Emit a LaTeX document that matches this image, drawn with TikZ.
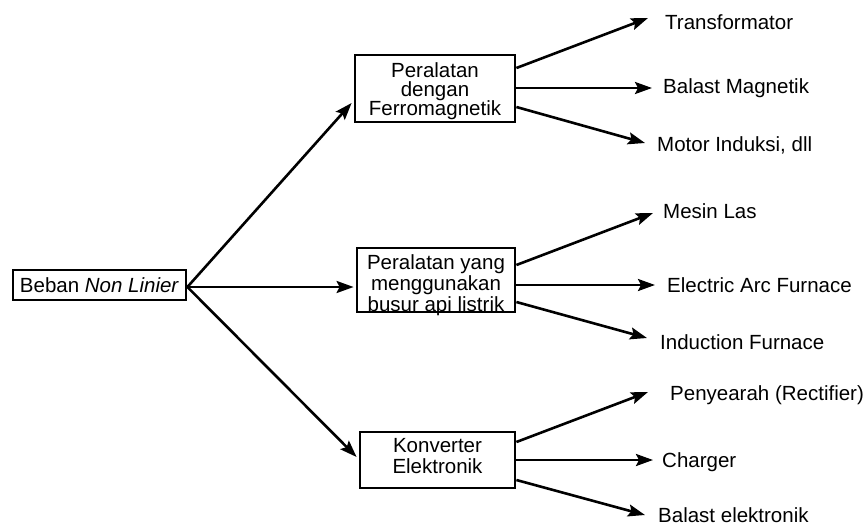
\documentclass[tikz,border=0pt]{standalone}
\usepackage{fontspec}
\setmainfont{Liberation Sans}
\usetikzlibrary{arrows.meta,calc}
\begin{document}
\begin{tikzpicture}[x=1pt,y=-1pt,
  box/.style={draw=black,line width=2.8pt,fill=white,inner sep=0pt,rectangle},
  boxtext/.style={align=center,inner sep=0pt,font=\fontsize{20.5}{20}\selectfont},
  leaf/.style={anchor=west,inner sep=0pt,font=\fontsize{20.5}{20}\selectfont},
  conn/.style={line width=2.6pt,-{Stealth[length=17pt,width=12pt,inset=3pt]}}]
\useasboundingbox (0,0) rectangle (866,525);
\fill[white] (0,0) rectangle (866,525);
% boxes
\node[box,minimum width=173pt,minimum height=30pt,font=\fontsize{20.5}{20}\selectfont] (b0) at (99.5,285) {Beban \textit{Non Linier}};
\node[box,minimum width=160pt,minimum height=67pt] (b1) at (435,88.5) {};
\node[box,minimum width=158pt,minimum height=64pt] (b2) at (436,280) {};
\node[box,minimum width=155pt,minimum height=56pt] (b3) at (437.5,460) {};
\node[boxtext] (t1) at (435,91) {Peralatan\\[-1pt]dengan\\[-1pt]Ferromagnetik};
\node[boxtext] (t2) at (436,285) {Peralatan yang\\[1pt]menggunakan\\[1pt]busur api listrik};
\node[boxtext] (t3) at (437.5,456) {Konverter\\[1pt]Elektronik};
% leaves
\node[leaf] (l1) at (665,22) {Transformator};
\node[leaf] (l2) at (663,88) {Balast Magnetik};
\node[leaf] (l3) at (657,145) {Motor Induksi, dll};
\node[leaf] (l4) at (663,211) {Mesin Las};
\node[leaf] (l5) at (667,285) {Electric Arc Furnace};
\node[leaf] (l6) at (660,342) {Induction Furnace};
\node[leaf] (l7) at (670,395) {Penyearah (Rectifier)};
\node[leaf] (l8) at (662,462) {Charger};
\node[leaf] (l9) at (658,515) {Balast elektronik};
% arrow tips near leaves
\coordinate (e1) at ($(l1.west)+(-17,-4)$);
\coordinate (e2) at ($(l2.west)+(-11,0)$);
\coordinate (e3) at ($(l3.west)+(-12,-2)$);
\coordinate (e4) at ($(l4.west)+(-10,2)$);
\coordinate (e5) at ($(l5.west)+(-12,0)$);
\coordinate (e6) at ($(l6.west)+(-13,-4)$);
\coordinate (e7) at ($(l7.west)+(-22,-3)$);
\coordinate (e8) at ($(l8.west)+(-9,-2)$);
\coordinate (e9) at ($(l9.west)+(-13,0)$);
% connectors from root
\draw[conn] ($(b0.east)+(0,2)$) -- ($(b1.west)+(-2,14.5)$);
\draw[conn] ($(b0.east)+(0,2)$) -- ($(b2.west)+(-2,7)$);
\draw[conn] ($(b0.east)+(0,2)$) -- ($(b3.west)+(-2,-3)$);
% connectors to leaves
\draw[conn] ($(b1.east)+(0,-20.5)$) -- (e1);
\draw[conn] ($(b1.east)+(0,-0.5)$) -- (e2);
\draw[conn] ($(b1.east)+(0,18.5)$) -- (e3);
\draw[conn] ($(b2.east)+(0,-15)$) -- (e4);
\draw[conn] ($(b2.east)+(0,5)$) -- (e5);
\draw[conn] ($(b2.east)+(0,22)$) -- (e6);
\draw[conn] ($(b3.east)+(0,-18)$) -- (e7);
\draw[conn] ($(b3.east)+(0,0)$) -- (e8);
\draw[conn] ($(b3.east)+(0,20)$) -- (e9);
\end{tikzpicture}
\end{document}
